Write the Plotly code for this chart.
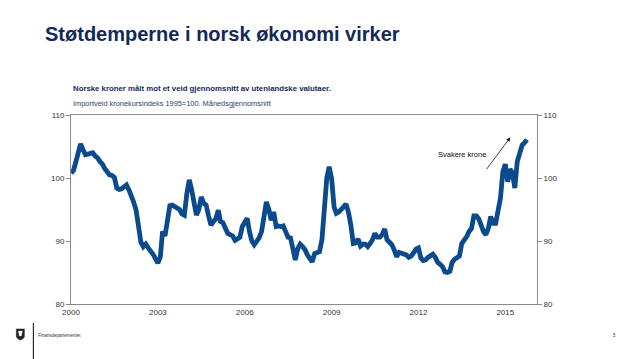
import plotly.graph_objects as go
import pandas as pd

# Monthly import-weighted krone exchange rate index (1995=100), Jan 2000 - Oct 2015
v2000 = [100.8, 101.2, 102.5, 104.2, 105.4, 104.5, 103.7, 103.8, 104.0, 104.0, 103.5, 103.2]
v2001 = [102.6, 102.2, 101.5, 101.0, 100.5, 100.4, 100.1, 98.4, 98.2, 98.3, 98.6, 98.9]
v2002 = [98.1, 97.2, 96.2, 94.9, 92.5, 89.8, 89.1, 89.5, 88.9, 88.5, 87.9, 87.2]
v2003 = [86.5, 87.5, 91.5, 90.8, 93.5, 95.6, 95.7, 95.5, 95.2, 95.0, 94.3, 94.1]
v2004 = [97.5, 99.7, 98.2, 96.0, 94.1, 95.0, 97.0, 96.0, 95.7, 94.0, 92.5, 93.1]
v2005 = [93.5, 94.9, 93.1, 92.9, 92.0, 91.2, 91.0, 90.8, 90.1, 90.3, 90.6, 92.3]
v2006 = [93.0, 93.6, 91.5, 90.0, 89.4, 89.9, 90.5, 91.5, 94.0, 96.2, 95.0, 93.3]
v2007 = [94.6, 92.3, 92.4, 92.3, 92.4, 91.6, 90.6, 90.5, 88.8, 87.0, 88.8, 89.5]
v2008 = [89.1, 88.6, 87.8, 87.3, 86.7, 88.0, 88.2, 88.3, 90.2, 95.4, 100.0, 101.8]
v2009 = [99.9, 95.4, 94.4, 94.6, 94.9, 95.4, 95.9, 94.6, 92.5, 89.6, 89.7, 90.3]
v2010 = [89.2, 89.5, 89.5, 89.1, 89.6, 90.2, 91.2, 90.6, 90.6, 91.0, 91.9, 90.2]
v2011 = [89.8, 89.4, 88.6, 87.5, 88.2, 88.1, 88.0, 87.8, 87.4, 87.6, 88.1, 88.7]
v2012 = [88.9, 87.3, 86.9, 87.0, 87.4, 87.6, 87.9, 87.4, 86.6, 86.3, 85.9, 85.1]
v2013 = [85.0, 85.2, 86.6, 87.1, 87.3, 87.6, 89.6, 90.1, 90.7, 91.5, 92.0, 94.0]
v2014 = [94.0, 93.5, 92.3, 91.5, 91.0, 92.0, 93.9, 92.8, 92.8, 94.4, 96.8, 101.0]
v2015 = [102.2, 99.4, 101.4, 100.8, 98.4, 102.6, 104.2, 105.2, 105.6, 106.1]

values = (v2000 + v2001 + v2002 + v2003 + v2004 + v2005 + v2006 + v2007 +
          v2008 + v2009 + v2010 + v2011 + v2012 + v2013 + v2014 + v2015)
dates = pd.date_range("2000-01-01", periods=len(values), freq="MS")

tick_years = [2000, 2003, 2006, 2009, 2012, 2015]
y_ticks = [80, 90, 100, 110]

title = "Støtdemperne i norsk økonomi virker"
subtitle1 = "Norske kroner målt mot et veid gjennomsnitt av utenlandske valutaer."
subtitle2 = "Importveid kronekursindeks 1995=100. Månedsgjennomsnitt"
note = "Svakere krone"
footer = "Finansdepartementet"
page = "5"

FONT = "Liberation Sans, Arial, sans-serif"
NAVY = "#13295b"
LINE = "#0b4a8c"
AX = "#8a8a8a"

W, H = 638, 359
L, R, T, B = 70.7, 100.7, 115, 55
PW, PH = W - L - R, H - T - B


def px(x):
    return (x - L) / PW


def py(y):
    return (H - B - y) / PH


fig = go.Figure()
fig.add_trace(go.Scatter(x=dates, y=values, mode="lines",
                         line=dict(color=LINE, width=4.8), hoverinfo="skip",
                         showlegend=False))
fig.add_trace(go.Scatter(x=[dates[0]], y=[values[0]], yaxis="y2", mode="lines",
                         line=dict(width=0), opacity=0, showlegend=False,
                         hoverinfo="skip"))

fig.update_layout(
    width=W, height=H,
    margin=dict(l=L, r=R, t=T, b=B),
    paper_bgcolor="white", plot_bgcolor="white",
    font=dict(family=FONT, size=8, color="#333333"),
    xaxis=dict(range=["2000-01-01", "2016-02-05"], tickvals=[f"{y}-01-01" for y in tick_years],
               ticktext=[str(y) for y in tick_years], showgrid=False, zeroline=False,
               showline=True, linecolor=AX, linewidth=1, mirror=True, ticks="",
               tickfont=dict(size=8, color="#333333")),
    yaxis=dict(range=[80, 110], tickvals=y_ticks, showgrid=False, zeroline=False,
               showline=True, linecolor=AX, linewidth=1, ticks="outside", ticklen=4,
               tickcolor=AX, tickfont=dict(size=8, color="#333333")),
    yaxis2=dict(range=[80, 110], tickvals=y_ticks, overlaying="y", side="right",
                showgrid=False, zeroline=False, showline=True, linecolor=AX, linewidth=1,
                ticks="outside", ticklen=4, tickcolor=AX,
                tickfont=dict(size=8, color="#333333")),
)

ann = []
ann.append(dict(text=f"<b>{title}</b>", x=px(42.5), y=py(47), xref="paper", yref="paper",
                xanchor="left", yanchor="bottom", showarrow=False,
                font=dict(size=20, color=NAVY, family=FONT)))
ann.append(dict(text=f"<b>{subtitle1}</b>", x=px(71), y=py(95), xref="paper", yref="paper",
                xanchor="left", yanchor="bottom", showarrow=False,
                font=dict(size=7.8, color=NAVY, family=FONT)))
ann.append(dict(text=subtitle2, x=px(71), y=py(110), xref="paper", yref="paper",
                xanchor="left", yanchor="bottom", showarrow=False,
                font=dict(size=7.4, color="#2c3e6e", family=FONT)))
ann.append(dict(text=note, x="2013-07-10", y=103.8, xref="x", yref="y",
                showarrow=False, font=dict(size=7.5, color="#111111", family=FONT)))
ann.append(dict(text="", x="2015-03-05", y=106.45, ax="2014-04-25", ay=101.15,
                xref="x", yref="y", axref="x", ayref="y", showarrow=True,
                arrowhead=2, arrowsize=1, arrowwidth=0.8, arrowcolor="#111111"))
ann.append(dict(text=footer, x=px(36), y=py(335), xref="paper", yref="paper",
                xanchor="left", yanchor="middle", showarrow=False,
                font=dict(size=4.5, color="#333333", family=FONT)))
ann.append(dict(text=page, x=px(615), y=py(335), xref="paper", yref="paper",
                xanchor="center", yanchor="middle", showarrow=False,
                font=dict(size=4.5, color="#333333", family=FONT)))
fig.update_layout(annotations=ann)

shapes = []
shapes.append(dict(type="line", xref="paper", yref="paper", x0=px(33), x1=px(33),
                   y0=py(323), y1=py(359), line=dict(color="#000000", width=1)))
# small coat-of-arms style emblem
shapes.append(dict(type="path", xref="paper", yref="paper",
                   path=(f"M {px(16)} {py(329)} L {px(24)} {py(329)} L {px(24)} {py(337)} "
                         f"Q {px(20)} {py(343)} {px(16)} {py(337)} Z"),
                   fillcolor="#222222", line=dict(color="#222222", width=0.5)))
shapes.append(dict(type="path", xref="paper", yref="paper",
                   path=(f"M {px(18)} {py(331)} L {px(22)} {py(331)} L {px(21)} {py(336)} "
                         f"L {px(19)} {py(336)} Z"),
                   fillcolor="#ffffff", line=dict(color="#ffffff", width=0.3)))
fig.update_layout(shapes=shapes)

fig.write_html("out.html", config={"displayModeBar": False},
               post_script="document.body.style.margin='0';document.body.style.overflow='hidden';")
